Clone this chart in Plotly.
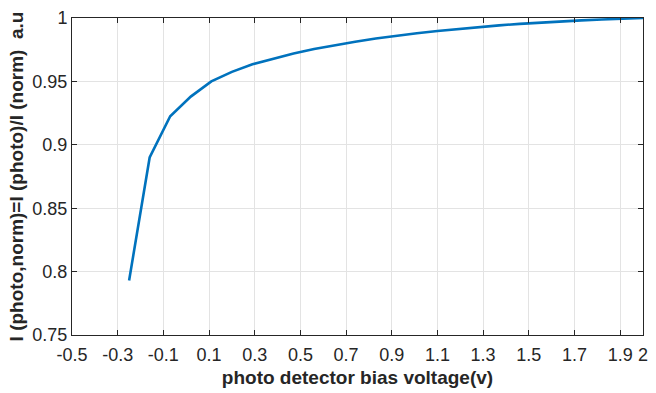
import plotly.graph_objects as go

bias_v = [-0.25, -0.16, -0.07, 0.02, 0.11, 0.20, 0.29, 0.38, 0.47, 0.56, 0.65, 0.74, 0.83,
          0.92, 1.01, 1.10, 1.19, 1.28, 1.37, 1.46, 1.55, 1.64, 1.73, 1.82, 1.91, 2.00]
i_norm = [0.793, 0.890, 0.9225, 0.938, 0.950, 0.9575, 0.9635, 0.968, 0.972, 0.9755, 0.9785,
          0.9813, 0.9838, 0.986, 0.988, 0.9898, 0.9914, 0.9929, 0.9942, 0.9954, 0.9964,
          0.9973, 0.9981, 0.9988, 0.9994, 1.0]

x_ticks = [-0.5, -0.3, -0.1, 0.1, 0.3, 0.5, 0.7, 0.9, 1.1, 1.3, 1.5, 1.7, 1.9, 2.0]
x_labels = ["-0.5", "-0.3", "-0.1", "0.1", "0.3", "0.5", "0.7", "0.9", "1.1", "1.3",
            "1.5", "1.7", "1.9", "2"]
y_ticks = [0.75, 0.8, 0.85, 0.9, 0.95, 1.0]
y_labels = ["0.75", "0.8", "0.85", "0.9", "0.95", "1"]

FONT = "Liberation Sans, Arial"

fig = go.Figure()
fig.add_trace(go.Scatter(x=bias_v, y=i_norm, mode="lines",
                         line=dict(color="#0072BD", width=2.6), showlegend=False))

axis_common = dict(
    showline=True, linecolor="#262626", linewidth=1, mirror="ticks",
    ticks="inside", ticklen=5, tickcolor="#262626", tickwidth=1,
    showgrid=True, gridcolor="#e3e3e3", gridwidth=1, zeroline=False,
    tickfont=dict(family=FONT, size=18, color="#262626"),
)

fig.update_layout(
    width=656, height=393,
    margin=dict(l=72, r=8, t=15, b=57),
    paper_bgcolor="white", plot_bgcolor="white",
    xaxis=dict(range=[-0.5, 2.0], tickvals=x_ticks, ticktext=x_labels,
               ticklabelstandoff=3,
               title=dict(text="<b>photo detector bias voltage(v)</b>", standoff=7,
                          font=dict(family=FONT, size=19, color="#262626")),
               **axis_common),
    yaxis=dict(range=[0.75, 1.0], tickvals=y_ticks, ticktext=y_labels,
               title=dict(text="<b>I (photo,norm)=I (photo)/I (norm)  a.u</b>", standoff=3,
                          font=dict(family=FONT, size=19, color="#262626")),
               **axis_common),
)

fig.write_html("out.html")
